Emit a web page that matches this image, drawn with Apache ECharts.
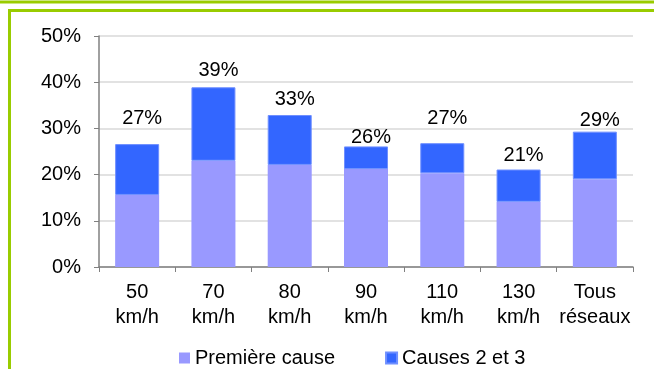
<!DOCTYPE html>
<html>
<head>
<meta charset="utf-8">
<script src="https://cdn.jsdelivr.net/npm/echarts@6/dist/echarts.min.js"></script>
<style>
  html, body { margin: 0; padding: 0; background: #fff; }
  #chart { width: 654px; height: 369px; }
</style>
</head>
<body>
<div id="chart"></div>
<script>
// données (en %)
const categories = ['50\nkm/h', '70\nkm/h', '80\nkm/h', '90\nkm/h', '110\nkm/h', '130\nkm/h', 'Tous\nréseaux'];
const premiereCause = [15.6, 23.0, 22.1, 21.2, 20.3, 14.1, 19.0];
const causes23 = [11.0, 15.9, 10.8, 4.9, 6.5, 7.0, 10.3];
const yTicks = [0, 10, 20, 30, 40, 50];

// décalage vertical des étiquettes de total (mise en page seulement)
const labelDy = [-16, -7, -6, 1, -15, -4, -1];

const font = 'Liberation Sans, Arial, sans-serif';
const totals = premiereCause.map((v, i) => v + causes23[i]);

var myChart = echarts.init(document.getElementById('chart'), null, { renderer: 'canvas' });

var option = {
  animation: false,
  backgroundColor: '#fff',
  graphic: [
    { type: 'rect', shape: { x: -10, y: -10, width: 700, height: 12 }, style: { fill: 'none', stroke: '#99CC00', lineWidth: 3 } },
    { type: 'rect', shape: { x: 9.5, y: 10.5, width: 700, height: 400 }, style: { fill: 'none', stroke: '#99CC00', lineWidth: 3 } }
  ],
  grid: { left: 99, right: 21, top: 36, bottom: 102 },
  legend: {
    left: 174,
    top: 343,
    itemWidth: 11,
    itemHeight: 11,
    itemGap: 50,
    icon: 'rect',
    textStyle: { fontFamily: font, fontSize: 20, color: '#000' },
    data: ['Première cause', 'Causes 2 et 3']
  },
  xAxis: {
    type: 'category',
    data: categories,
    axisLine: { lineStyle: { color: '#808080', width: 1.5 } },
    axisTick: { show: true, length: 5, lineStyle: { color: '#808080' } },
    axisLabel: { fontFamily: font, fontSize: 20, color: '#000', lineHeight: 25, margin: 13, interval: 0 }
  },
  yAxis: {
    type: 'value',
    min: 0,
    max: 50,
    interval: 10,
    axisLine: { show: true, lineStyle: { color: '#808080', width: 1.5 } },
    axisTick: { show: true, length: 5, lineStyle: { color: '#808080' } },
    splitLine: { lineStyle: { color: '#d9d9d9', width: 1.5 } },
    axisLabel: {
      fontFamily: font, fontSize: 20, color: '#000', margin: 18,
      formatter: v => yTicks.includes(v) ? v + '%' : ''
    }
  },
  series: [
    {
      name: 'Première cause',
      type: 'bar',
      stack: 'total',
      barWidth: 44,
      itemStyle: { color: '#9999FF' },
      data: premiereCause
    },
    {
      name: 'Causes 2 et 3',
      type: 'bar',
      stack: 'total',
      barWidth: 44,
      itemStyle: { color: '#3366FF', borderColor: '#6f8fff', borderWidth: 1 },
      data: causes23.map((v, i) => ({
        value: v,
        label: { offset: [5, labelDy[i]] }
      })),
      label: {
        show: true,
        position: 'top',
        distance: 0,
        fontFamily: font,
        fontSize: 20,
        color: '#000',
        formatter: p => Math.round(totals[p.dataIndex]) + '%'
      }
    }
  ]
};

option && myChart.setOption(option);
</script>
</body>
</html>
